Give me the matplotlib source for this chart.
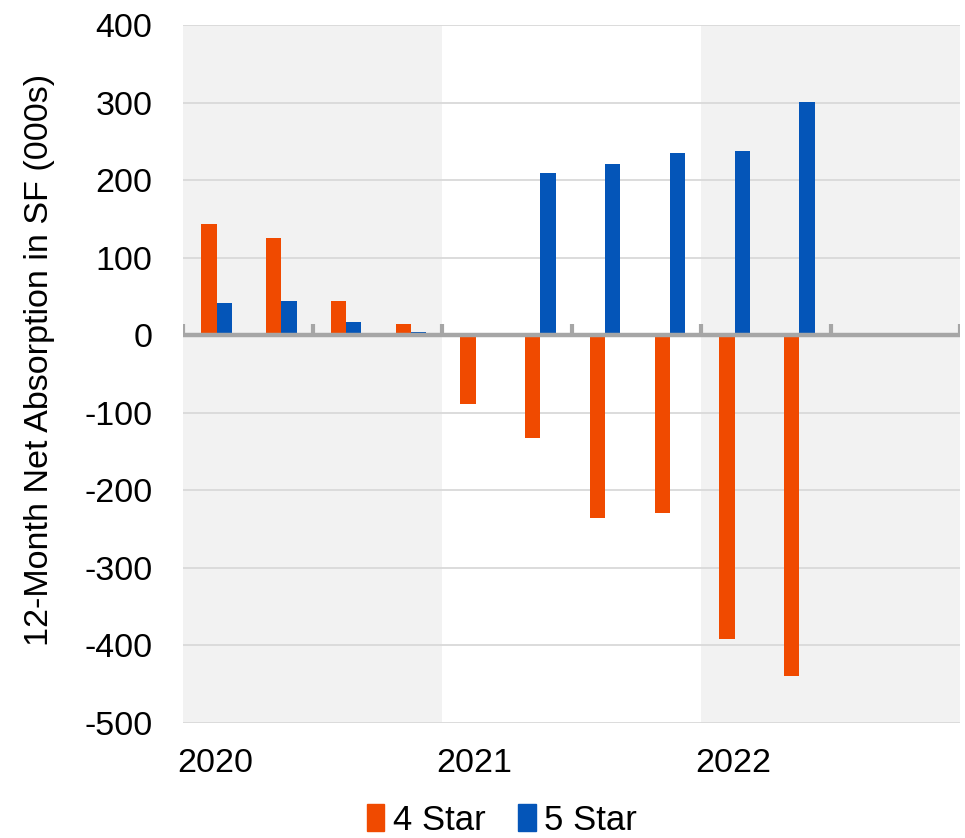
import numpy as np
import matplotlib
matplotlib.use("Agg")
import matplotlib.pyplot as plt
from matplotlib.patches import Patch

plt.rcParams['font.family'] = ['Liberation Sans', 'DejaVu Sans']

quarters = ["2020 Q1", "2020 Q2", "2020 Q3", "2020 Q4",
            "2021 Q1", "2021 Q2", "2021 Q3", "2021 Q4",
            "2022 Q1", "2022 Q2", "2022 Q3", "2022 Q4"]
star4 = [144, 126, 44, 15, -89, -132, -236, -229, -392, -440, np.nan, np.nan]
star5 = [41, 44, 17, 4, 0, 209, 221, 235, 237, 301, np.nan, np.nan]
year_labels = ["2020", "2021", "2022"]
yticks = list(range(-500, 401, 100))

c4 = "#f04a00"
c5 = "#0455b8"
band = "#f2f2f2"
axis_gray = "#a6a6a6"
grid_gray = "#d9d9d9"

fig = plt.figure(figsize=(9.65, 8.38), dpi=100)
ax = fig.add_axes([183/965, 1 - 723/838, 777/965, 698/838])

x = np.arange(len(quarters))
w = 0.236

# shaded year bands (2020 and 2022)
ax.axvspan(-0.5, 3.5, color=band, zorder=0, lw=0)
ax.axvspan(7.5, 11.5, color=band, zorder=0, lw=0)

for t in yticks:
    ax.axhline(t, color=grid_gray, lw=1.3, zorder=1)

ax.bar(x - w/2 + 0.02, star4, width=w, color=c4, zorder=2)
ax.bar(x + w/2 + 0.02, star5, width=w, color=c5, zorder=2)

# category axis at zero with upward tick marks every two quarters
ax.axhline(0, color=axis_gray, lw=3.2, zorder=3)
bounds = np.arange(-0.5, len(quarters), 2)
ax.vlines(bounds, 0, 14.5, color=axis_gray, lw=3.0, zorder=3)

ax.set_xlim(-0.5, 11.5)
ax.set_ylim(-500, 400)
ax.set_yticks(yticks)
ax.set_yticklabels([str(t) for t in yticks])
ax.set_xticks([0, 4, 8])
ax.set_xticklabels(year_labels)
ax.tick_params(axis='y', length=0, pad=22, labelsize=24.5)
ax.tick_params(axis='x', length=0, pad=18, labelsize=24.5)
for s in ax.spines.values():
    s.set_visible(False)

fig.text(40/965, 1 - 360/838, "12-Month Net Absorption in SF (000s)",
         rotation=90, ha='center', va='center', fontsize=24.6)

handles = [Patch(color=c4, label="4 Star"), Patch(color=c5, label="5 Star")]
fig.legend(handles=handles, loc='center', bbox_to_anchor=(502/965, 1 - 820/838),
           ncol=2, frameon=False, fontsize=25, handlelength=0.5, handleheight=0.8,
           handletextpad=0.25, columnspacing=0.95, borderaxespad=0)

fig.savefig("out.png", dpi=100)
